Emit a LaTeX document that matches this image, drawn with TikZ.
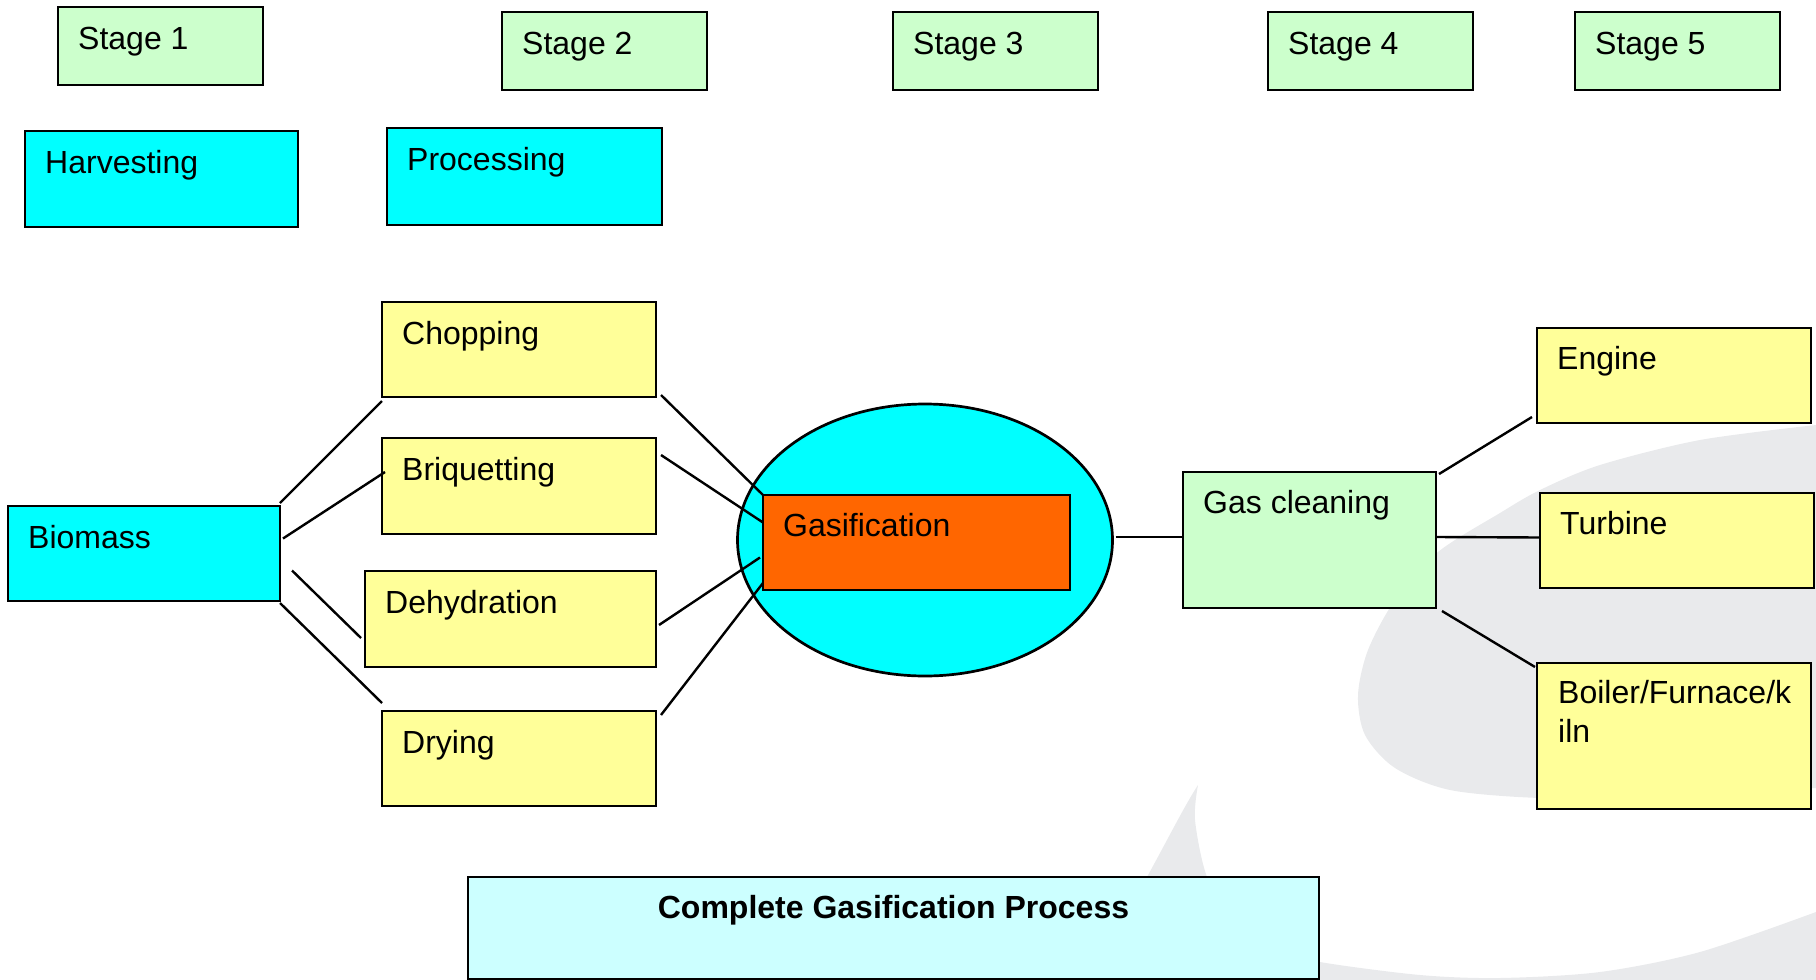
\documentclass[tikz,border=0pt]{standalone}
\usepackage{fontspec}
\setmainfont{Liberation Sans}
\usetikzlibrary{shapes.geometric,calc}
\definecolor{stagegreen}{RGB}{204,255,204}
\definecolor{cyanfill}{RGB}{0,255,255}
\definecolor{yellowfill}{RGB}{255,255,153}
\definecolor{orangefill}{RGB}{255,102,0}
\definecolor{lightcyan}{RGB}{204,255,255}
\definecolor{swoosh}{RGB}{233,234,236}
\begin{document}
\begin{tikzpicture}[x=1pt,y=-1pt,
  box/.style={draw=black,line width=2.7pt,inner sep=0pt,outer sep=0pt,anchor=north west,minimum width=274pt,minimum height=95pt},
  stagebox/.style={box,fill=stagegreen,minimum width=205pt,minimum height=78pt},
  cyanbox/.style={box,fill=cyanfill},
  yelbox/.style={box,fill=yellowfill},
  lbl/.style={inner sep=0pt,anchor=base west,font=\fontsize{32}{39}\selectfont,align=left},
  conn/.style={draw=black,line width=2.4pt}]
\useasboundingbox (0,0) rectangle (1816,980);
% background swoosh
\fill[swoosh] plot[smooth] coordinates {(1816,425) (1700,440) (1600,465) (1540,490) (1500,513) (1438,552) (1395,600) (1368,650) (1358,695) (1365,735) (1395,768) (1450,790) (1540,798) (1650,797) (1816,788)} -- cycle;
\fill[swoosh] plot[smooth] coordinates {(1198,785) (1195,820) (1207,877) (1235,925) (1280,950) (1320,962) (1420,975) (1500,978) (1600,972) (1700,952) (1816,912)} -- (1816,980) -- (1105,980) -- (1147,877) .. controls (1170,835) and (1185,805) .. (1198,785) -- cycle;
% stages
\node[stagebox] (st1) at (58,7) {};
\node[lbl] (st1t) at ($(st1.north west)+(20,42)$) {Stage 1};
\node[stagebox] (st2) at (502,12) {};
\node[lbl] (st2t) at ($(st2.north west)+(20,42)$) {Stage 2};
\node[stagebox] (st3) at (893,12) {};
\node[lbl] (st3t) at ($(st3.north west)+(20,42)$) {Stage 3};
\node[stagebox] (st4) at (1268,12) {};
\node[lbl] (st4t) at ($(st4.north west)+(20,42)$) {Stage 4};
\node[stagebox] (st5) at (1575,12) {};
\node[lbl] (st5t) at ($(st5.north west)+(20,42)$) {Stage 5};
% headers
\node[cyanbox,minimum width=273pt,minimum height=96pt] (harv) at (25,131) {};
\node[lbl] (harvt) at ($(harv.north west)+(20,42)$) {Harvesting};
\node[cyanbox,minimum width=275pt,minimum height=97pt] (proc) at (387,128) {};
\node[lbl] (proct) at ($(proc.north west)+(20,42)$) {Processing};
% biomass
\node[cyanbox,minimum width=272pt,minimum height=95pt] (bio) at (8,506) {};
\node[lbl] (biot) at ($(bio.north west)+(20,42)$) {Biomass};
% processing steps
\node[yelbox] (chop) at (382,302) {};
\node[lbl] (chopt) at ($(chop.north west)+(20,42)$) {Chopping};
\node[yelbox,minimum height=96pt] (briq) at (382,438) {};
\node[lbl] (briqt) at ($(briq.north west)+(20,42)$) {Briquetting};
\node[yelbox,minimum width=291pt,minimum height=96pt] (dehy) at (365,571) {};
\node[lbl] (dehyt) at ($(dehy.north west)+(20,42)$) {Dehydration};
\node[yelbox] (dry) at (382,711) {};
\node[lbl] (dryt) at ($(dry.north west)+(20,42)$) {Drying};
% gasification
\node[ellipse,draw=black,line width=2.7pt,fill=cyanfill,minimum width=375pt,minimum height=272pt,inner sep=0pt,outer sep=0pt] (ell) at (925,540) {};
\node[box,fill=orangefill,minimum width=307pt] (gasif) at (763,495) {};
\node[lbl] (gasift) at ($(gasif.north west)+(20,41)$) {Gasification};
% gas cleaning
\node[box,fill=stagegreen,minimum width=253pt,minimum height=136pt] (gc) at (1183,472) {};
\node[lbl] (gct) at ($(gc.north west)+(20,41)$) {Gas cleaning};
% end uses
\node[yelbox] (eng) at (1537,328) {};
\node[lbl] (engt) at ($(eng.north west)+(20,41)$) {Engine};
\node[yelbox] (turb) at (1540,493) {};
\node[lbl] (turbt) at ($(turb.north west)+(20,41)$) {Turbine};
\node[yelbox,minimum height=146pt] (boil) at (1537,663) {};
\node[lbl] (boilt) at ($(boil.north west)+(21,79)$) {Boiler/Furnace/k\\iln};
% title
\node[box,fill=lightcyan,minimum width=851pt,minimum height=102pt] (title) at (468,877) {};
\node[lbl,anchor=base,font=\bfseries\fontsize{32}{39}\selectfont] (titlet) at ($(title.north)+(0,41)$) {Complete Gasification Process};
% connectors
\draw[conn] ($(bio.north east)+(0,-3)$) -- ($(chop.south west)+(0,4)$);
\draw[conn] ($(bio.east)+(3,-15)$) -- ($(briq.west)+(3,-14)$);
\draw[conn] ($(bio.east)+(12,17)$) -- ($(dehy.west)+(-4,19)$);
\draw[conn] ($(bio.south east)+(0,2)$) -- ($(dry.north west)+(0,-8)$);
\draw[conn] ($(chop.south east)+(5,-2)$) -- (gasif.north west);
\draw[conn] ($(briq.east)+(5,-31)$) -- ($(gasif.west)+(0,-20)$);
\draw[conn] ($(dehy.east)+(3,6)$) -- ($(gasif.west)+(-3,15)$);
\draw[conn] ($(dry.north east)+(5,4)$) -- ($(gasif.south west)+(0,-7)$);
\draw[conn] ($(ell.east)+(3,-3)$) -- ($(gc.west)+(0,-3)$);
\draw[conn] ($(gc.east)+(0,-3)$) -- ($(turb.west)+(0,-3)$);
\draw[conn] ($(gc.north east)+(3,2)$) -- ($(eng.south west)+(-5,-6)$);
\draw[conn] ($(gc.south east)+(6,3)$) -- ($(boil.north west)+(-2,4)$);
\end{tikzpicture}
\end{document}
